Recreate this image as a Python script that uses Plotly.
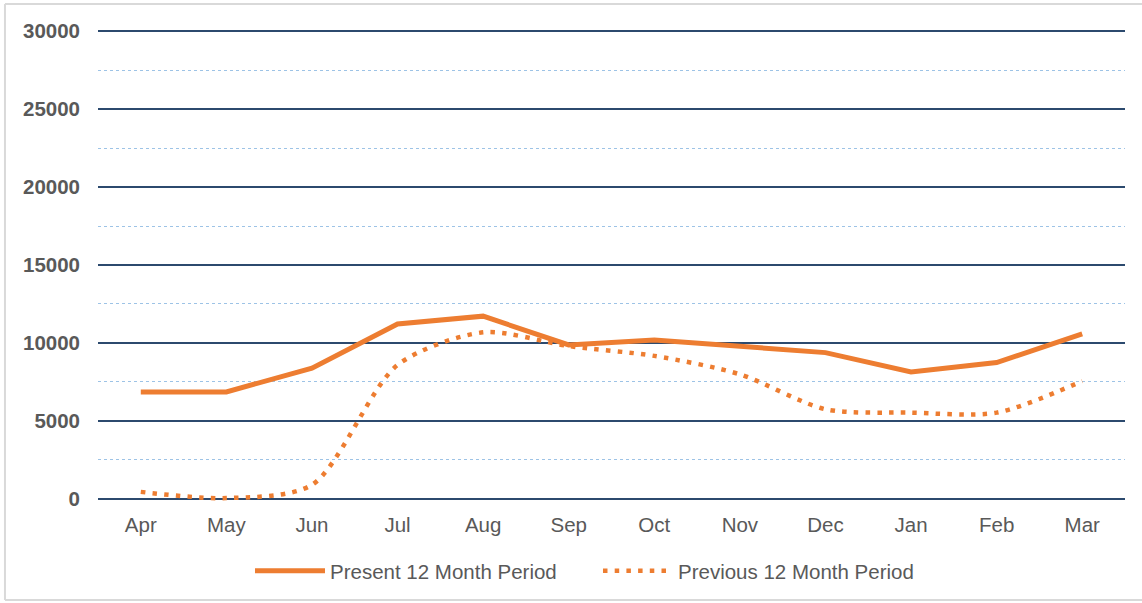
import plotly.graph_objects as go

months = ["Apr", "May", "Jun", "Jul", "Aug", "Sep", "Oct", "Nov", "Dec", "Jan", "Feb", "Mar"]
present = [6860, 6860, 8380, 11220, 11720, 9870, 10190, 9800, 9380, 8140, 8740, 10580]
previous = [450, 50, 900, 8590, 10680, 9800, 9170, 7990, 5750, 5530, 5530, 7560]
y_ticks = [0, 5000, 10000, 15000, 20000, 25000, 30000]

ORANGE = "#ED7D31"
TEXT = "#595959"
BORDER = "#D9D9D9"

fig = go.Figure()
fig.add_trace(go.Scatter(
    x=months, y=present, mode="lines", name="Present 12 Month Period",
    line=dict(color=ORANGE, width=5),
))
fig.add_trace(go.Scatter(
    x=months, y=previous, mode="lines", name="Previous 12 Month Period",
    line=dict(color=ORANGE, width=4.5, dash="4.5px,7.2px", shape="spline", smoothing=0.8),
))

# plot area: x 98..1125, y 28..502 ; range padded so edge gridlines are kept
bx0, bx1, by0, by1 = -0.0906, 1.05, -0.2068, 1.0506
fig.update_layout(
    width=1142, height=603,
    margin=dict(l=98, r=17, t=28, b=101, autoexpand=False),
    paper_bgcolor="white", plot_bgcolor="white",
    font=dict(family="Liberation Sans, Arial, sans-serif", color=TEXT, size=19),
    showlegend=True,
    legend=dict(orientation="h", x=0.148, xanchor="left", y=-0.1456, yanchor="middle",
                font=dict(size=20.5, color=TEXT), itemwidth=70, traceorder="normal",
                entrywidth=263, entrywidthmode="pixels"),
    xaxis=dict(
        showgrid=False, showline=False, zeroline=False, ticks="",
        tickfont=dict(size=20.5, color=TEXT), ticklabelstandoff=8,
        range=[-0.5, 11.5],
    ),
    yaxis=dict(
        range=[-200, 30200], tickvals=y_ticks, ticktext=[str(v) for v in y_ticks],
        showgrid=True, gridcolor="#2C4A6E", gridwidth=1.6,
        zeroline=False, showline=False, ticks="",
        tickfont=dict(size=20.5, color=TEXT, family="Liberation Sans, Arial, sans-serif", weight="bold"),
        ticklabelstandoff=17,
        minor=dict(dtick=2500, tick0=0, showgrid=True, gridcolor="#9DC3E6", gridwidth=1.3, griddash="dot"),
    ),
    shapes=[
        dict(type="line", xref="paper", yref="paper", x0=bx0, x1=bx1, y0=by1, y1=by1,
             line=dict(color=BORDER, width=2), layer="below"),
        dict(type="line", xref="paper", yref="paper", x0=bx0, x1=bx1, y0=by0, y1=by0,
             line=dict(color=BORDER, width=2), layer="below"),
        dict(type="line", xref="paper", yref="paper", x0=bx0, x1=bx0, y0=by0, y1=by1,
             line=dict(color=BORDER, width=2), layer="below"),
    ],
)

fig.write_html("out.html", config={"displayModeBar": False},
               post_script="document.body.style.margin='0';document.body.style.overflow='hidden';")
